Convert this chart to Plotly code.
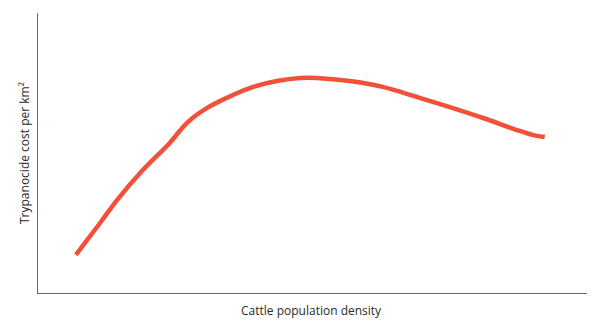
import plotly.graph_objects as go

density = [6.9, 11.3, 14.4, 19.1, 24.0, 27.1, 30.8, 35.5, 39.2, 43.5, 47.7, 50.8,
           56.8, 62.8, 69.0, 75.0, 81.1, 87.2, 90.2, 92.3]
cost = [13.6, 25.0, 33.2, 43.9, 53.6, 60.7, 66.1, 70.7, 73.6, 75.7, 76.8, 76.8,
        75.7, 73.6, 70.0, 66.4, 62.5, 58.2, 56.4, 55.7]

x_title = "Cattle population density"
y_title = "Trypanocide cost per km²"

fig = go.Figure()
fig.add_trace(go.Scatter(
    x=density, y=cost, mode="lines",
    line=dict(color="#f2503a", width=4.5, shape="spline", smoothing=1.0),
    hoverinfo="skip", showlegend=False,
))

axis_common = dict(showgrid=False, zeroline=False, showticklabels=False, ticks="",
                   showline=True, linecolor="#6a6a6a", linewidth=1.2, range=[0, 100], fixedrange=True)
fig.update_layout(
    width=599, height=320,
    margin=dict(l=38, r=12, t=13, b=27),
    paper_bgcolor="white", plot_bgcolor="white",
    font=dict(family="Open Sans, Noto Sans, sans-serif", size=12, color="#2a2a2a"),
    xaxis=axis_common,
    yaxis=axis_common,
    annotations=[
        dict(text=x_title, xref="paper", yref="paper", x=0.499, y=-0.062,
             xanchor="center", yanchor="middle", showarrow=False,
             font=dict(size=12)),
        dict(text=y_title, xref="paper", yref="paper", x=-0.0255, y=0.50,
             xanchor="center", yanchor="middle", textangle=-90, showarrow=False,
             font=dict(size=12)),
    ],
)
fig.write_html("out.html")
